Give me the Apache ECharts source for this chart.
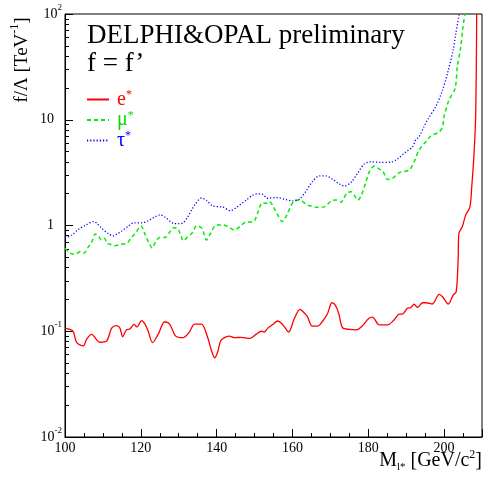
<!DOCTYPE html>
<html>
<head>
<meta charset="utf-8">
<script src="https://cdn.jsdelivr.net/npm/echarts@6/dist/echarts.min.js"></script>
<style>
  html, body { margin: 0; padding: 0; background: #fff; }
  #chart { width: 484px; height: 483px; }
</style>
</head>
<body>
<div id="chart"></div>
<script>
// limits on f/Lambda vs excited lepton mass
var eMass = [100.0,101.3,102.2,103.1,104.8,105.7,107.0,109.2,111.0,112.3,113.6,114.5,115.2,116.2,117.1,118.2,119.0,120.2,121.1,121.9,123.1,124.6,126.3,127.6,129.2,131.1,132.7,134.2,136.0,137.7,138.6,139.5,140.3,141.2,143.4,144.7,146.5,148.7,150.4,151.8,152.6,153.5,154.8,156.1,157.4,159.0,160.5,162.0,163.2,164.0,165.2,166.7,168.0,169.3,170.4,171.3,172.2,173.2,175.0,176.8,178.5,180.1,181.1,182.9,185.1,186.8,188.2,189.0,190.3,191.2,192.1,193.0,194.3,195.2,196.9,198.7,199.6,201.1,202.4,203.2,203.7,203.9,204.8,205.7,206.8,207.3,207.9,208.3,208.5,208.6];
var eLimit = [0.107,0.104,0.099,0.078,0.0726,0.084,0.0935,0.0787,0.081,0.107,0.113,0.107,0.0887,0.103,0.105,0.116,0.110,0.126,0.117,0.101,0.078,0.094,0.123,0.117,0.090,0.0869,0.097,0.117,0.117,0.0857,0.0665,0.056,0.064,0.0826,0.090,0.0869,0.0877,0.0857,0.0935,0.100,0.0984,0.107,0.116,0.125,0.116,0.0984,0.132,0.161,0.148,0.136,0.112,0.112,0.125,0.148,0.186,0.177,0.148,0.108,0.104,0.103,0.113,0.132,0.136,0.115,0.115,0.128,0.145,0.145,0.165,0.167,0.180,0.168,0.186,0.186,0.181,0.223,0.212,0.181,0.220,0.237,0.472,0.84,0.975,1.26,1.49,2.33,4.8,10,31.8,100];

var muMass = [100.0,101.4,102.7,104.0,104.9,106.2,107.1,108.0,108.9,109.6,110.4,111.1,111.9,113.2,114.6,116.3,117.2,118.5,120.1,121.0,122.2,123.0,123.9,125.1,126.4,127.4,128.6,129.7,130.6,131.2,132.4,133.6,134.7,136.1,137.3,138.4,139.9,141.7,143.0,144.7,146.1,147.8,149.6,150.9,152.0,153.1,153.9,155.0,156.1,157.3,158.3,159.7,160.8,162.3,164.0,166.7,168.4,170.2,171.5,172.8,174.3,175.4,176.3,177.2,178.1,179.2,180.3,181.6,182.9,183.9,185.1,186.4,188.2,190.8,192.1,193.4,195.2,196.5,198.7,199.6,200.0,201.3,202.9,203.5,204.4,205.0,205.5];
var muLimit = [0.608,0.546,0.537,0.565,0.546,0.631,0.703,0.832,0.784,0.729,0.757,0.679,0.664,0.644,0.664,0.679,0.741,0.843,0.989,0.843,0.679,0.612,0.703,0.773,0.77,0.843,0.953,0.94,0.796,0.718,0.784,0.855,0.995,0.942,0.729,0.843,1.01,1.01,0.975,0.906,0.975,1.08,1.08,1.33,1.64,1.62,1.69,1.50,1.26,1.09,1.21,1.56,1.74,1.71,1.56,1.49,1.50,1.71,1.74,1.66,2.02,2.09,1.94,1.74,1.90,2.47,3.23,3.65,3.42,3.23,2.73,2.79,3.16,3.35,4.01,5.17,6.20,7.02,7.66,8.6,10.7,15.4,19.8,31.8,49,75.9,100];

var tauMass = [100.0,101.8,103.6,105.3,107.6,108.4,109.7,111.4,112.7,113.2,115.0,116.8,118.1,120.3,122.0,123.8,125.1,126.4,128.3,129.9,131.2,132.4,133.4,134.3,136.0,137.3,139.0,141.7,143.6,145.2,147.8,149.6,150.9,152.1,153.5,155.7,158.3,160.1,161.8,163.6,165.3,167.1,168.9,170.6,172.4,173.7,175.4,177.2,178.9,180.7,183.3,186.0,187.7,189.5,191.7,192.5,193.4,194.7,195.6,197.8,199.6,200.9,202.4,203.1,204.0];
var tauLimit = [0.762,0.813,0.921,1.0,1.09,1.05,0.94,0.84,0.796,0.81,0.887,0.99,1.06,1.06,1.11,1.21,1.26,1.20,1.06,1.04,1.06,1.21,1.40,1.58,1.82,1.73,1.53,1.49,1.38,1.48,1.74,1.94,1.99,1.97,1.81,1.84,1.76,1.71,1.77,2.12,2.61,2.94,2.94,2.73,2.47,2.36,2.55,3.13,3.81,4.01,3.95,3.98,4.25,4.82,5.56,6.44,6.92,8.6,9.95,13.3,19.1,27.5,45.7,65.6,100];

// y axis: decades 10^-2 .. 10^2 (plotted in log10 space)
var yTickExp = [-2, -1, 0, 1, 2];
var yTickLabels = ['{b|10}{s|-2}', '{b|10}{s|-1}', '{b|1}{p|}', '{b|10}{p|}', '{b|10}{s|2}'];
var yMinorTicks = [];
[-2, -1, 0, 1].forEach(function (n) {
  [2, 3, 4, 5, 6, 7, 8, 9].forEach(function (k) { yMinorTicks.push(n + Math.log10(k)); });
});

var serif = 'Liberation Serif';

function pairs(xs, ys) {
  return xs.map(function (x, i) { return [x, Math.log10(ys[i])]; });
}

var chart = echarts.init(document.getElementById('chart'));

var legendText = {
  'e*': '{re|e}{rs|*}',
  'μ*': '{gm|μ}{gs|*}',
  'τ*': '{bt|τ}{bs|*}'
};

chart.setOption({
  animation: false,
  grid: {
    left: 65, right: 2, top: 14, bottom: 46,
    show: true, borderColor: '#000', borderWidth: 1
  },
  legend: {
    left: 86, top: 89, orient: 'vertical', padding: 0,
    itemWidth: 22, itemHeight: 14, itemGap: 0,
    data: ['e*', 'μ*', 'τ*'],
    itemStyle: { opacity: 0 },
    formatter: function (name) { return legendText[name]; },
    textStyle: {
      padding: [0, 0, 0, 3],
      rich: {
        re: { fontFamily: serif, fontSize: 20, color: '#ff0000', lineHeight: 21 },
        rs: { fontFamily: serif, fontSize: 12, color: '#ff0000', verticalAlign: 'top', lineHeight: 10 },
        gm: { fontFamily: serif, fontSize: 20, color: '#00dd00', lineHeight: 21 },
        gs: { fontFamily: serif, fontSize: 12, color: '#00dd00', verticalAlign: 'top', lineHeight: 10 },
        bt: { fontFamily: serif, fontSize: 20, color: '#0000ff', lineHeight: 21 },
        bs: { fontFamily: serif, fontSize: 12, color: '#0000ff', verticalAlign: 'top', lineHeight: 10 }
      }
    }
  },
  xAxis: {
    type: 'value', min: 100, max: 210, interval: 20,
    axisLine: { onZero: false, lineStyle: { color: '#000', width: 1 } },
    axisTick: { inside: true, length: 8, lineStyle: { color: '#000' } },
    minorTick: { show: true, splitNumber: 4, length: 4, lineStyle: { color: '#000' } },
    splitLine: { show: false },
    axisLabel: {
      fontFamily: serif, fontSize: 14, color: '#000', margin: 4,
      showMaxLabel: false
    }
  },
  yAxis: [{
    type: 'value', min: -2, max: 2, interval: 1,
    axisLine: { onZero: false, lineStyle: { color: '#000', width: 1 } },
    axisTick: { inside: true, length: 8, lineStyle: { color: '#000' } },
    splitLine: { show: false },
    axisLabel: {
      margin: 3,
      formatter: function (v) { return yTickLabels[yTickExp.indexOf(Math.round(v))]; },
      rich: {
        b: { fontFamily: serif, fontSize: 14, color: '#000', lineHeight: 22 },
        s: { fontFamily: serif, fontSize: 9, color: '#000', verticalAlign: 'top', lineHeight: 10 },
        p: { width: 8 }
      }
    }
  }, {
    type: 'value', min: -2, max: 2, position: 'left',
    axisLine: { show: false, onZero: false },
    axisLabel: { show: false },
    splitLine: { show: false },
    axisTick: { show: true, inside: true, length: 4, customValues: yMinorTicks, lineStyle: { color: '#000' } }
  }],
  series: [{
    name: 'e*', type: 'line', data: pairs(eMass, eLimit),
    showSymbol: false, symbol: 'none', smooth: 0.3,
    lineStyle: { color: '#ff0000', width: 1.3 },
    itemStyle: { color: '#ff0000' }
  }, {
    name: 'μ*', type: 'line', data: pairs(muMass, muLimit),
    showSymbol: false, symbol: 'none', smooth: 0.3,
    lineStyle: { color: '#00ee00', width: 1.5, type: [4, 3] },
    itemStyle: { color: '#00ee00' }
  }, {
    name: 'τ*', type: 'line', data: pairs(tauMass, tauLimit),
    showSymbol: false, symbol: 'none', smooth: 0.3,
    lineStyle: { color: '#0000ff', width: 1.3, type: [1.2, 2] },
    itemStyle: { color: '#0000ff' }
  }],
  graphic: [{
    type: 'text', left: 87, top: 22,
    style: { text: 'DELPHI&OPAL preliminary', font: '27px "Liberation Serif"', fill: '#000' }
  }, {
    type: 'text', left: 87, top: 50,
    style: { text: 'f = f’', font: '27px "Liberation Serif"', fill: '#000' }
  }, {
    type: 'text', x: 22, y: 60, rotation: Math.PI / 2,
    style: {
      text: '{b|f/Λ [TeV}{s|-1}{b|]}', align: 'center', verticalAlign: 'middle',
      rich: {
        b: { fontFamily: serif, fontSize: 19, fill: '#000', lineHeight: 26 },
        s: { fontFamily: serif, fontSize: 12, fill: '#000', verticalAlign: 'top', lineHeight: 12 }
      }
    }
  }, {
    type: 'text', x: 482, y: 461,
    style: {
      text: '{b|M}{u|l*}{b| [GeV/c}{s|2}{b|]}', align: 'right', verticalAlign: 'middle',
      rich: {
        b: { fontFamily: serif, fontSize: 20, fill: '#000', lineHeight: 24 },
        u: { fontFamily: serif, fontSize: 11, fill: '#000', verticalAlign: 'bottom', lineHeight: 12 },
        s: { fontFamily: serif, fontSize: 12, fill: '#000', verticalAlign: 'top', lineHeight: 12 }
      }
    }
  }]
});
</script>
</body>
</html>
